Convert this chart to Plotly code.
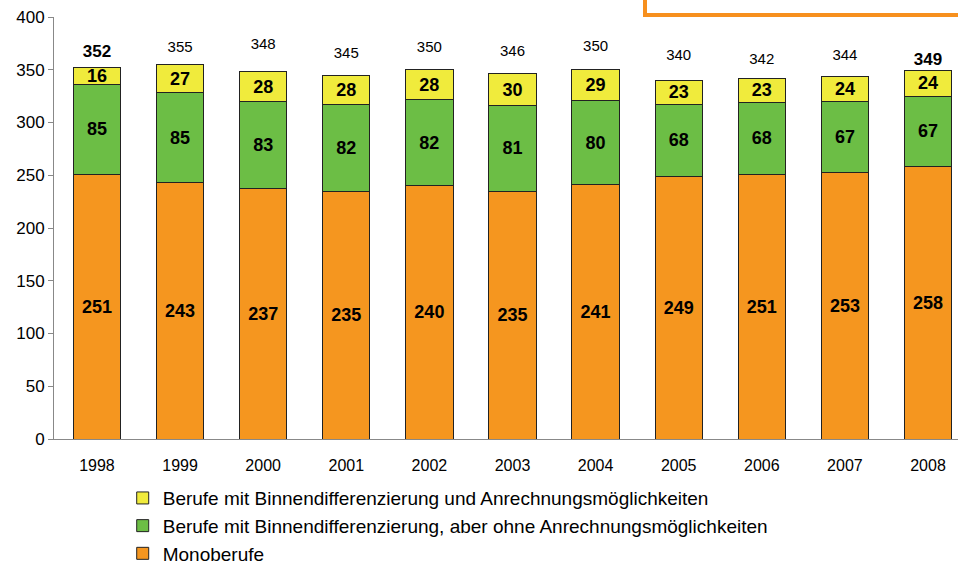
import plotly.graph_objects as go

years = ["1998", "1999", "2000", "2001", "2002", "2003", "2004", "2005", "2006", "2007", "2008"]
mono = [251, 243, 237, 235, 240, 235, 241, 249, 251, 253, 258]
ohne = [85, 85, 83, 82, 82, 81, 80, 68, 68, 67, 67]
mit = [16, 27, 28, 28, 28, 30, 29, 23, 23, 24, 24]
totals = [352, 355, 348, 345, 350, 346, 350, 340, 342, 344, 349]
total_bold = [True, False, False, False, False, False, False, False, False, False, True]

names = {
    "mit": "Berufe mit Binnendifferenzierung und Anrechnungsmöglichkeiten",
    "ohne": "Berufe mit Binnendifferenzierung, aber ohne Anrechnungsmöglichkeiten",
    "mono": "Monoberufe",
}

# label offsets above bar tops (in axis units)
total_offset = [14.5, 15.3, 24.8, 19.9, 20.6, 20.8, 21.6, 23.0, 17.0, 19.0, 9.6]

ORANGE = "#F5961F"
GREEN = "#6CBE45"
YELLOW = "#F0EB3C"
FONT = "Liberation Sans, Arial, sans-serif"

fig = go.Figure()
for key, vals, col in [("mono", mono, ORANGE), ("ohne", ohne, GREEN), ("mit", mit, YELLOW)]:
    fig.add_trace(go.Bar(
        x=years, y=vals, name=names[key],
        marker=dict(color=col, line=dict(color="#222222", width=1)),
        width=0.57,
        text=[str(v) for v in vals],
        texttemplate="<b>%{text}</b>",
        textposition="inside", insidetextanchor="middle", textangle=0,
        textfont=dict(family=FONT, size=18, color="black"),
        hoverinfo="skip",
    ))

for bold in (True, False):
    xs = [yr for yr, b in zip(years, total_bold) if b == bold]
    ys = [t + o for t, o, b in zip(totals, total_offset, total_bold) if b == bold]
    ts = [(f"<b>{t}</b>" if b else str(t)) for t, b in zip(totals, total_bold) if b == bold]
    fig.add_trace(go.Scatter(
        x=xs, y=ys, text=ts, mode="text", textposition="middle center",
        textfont=dict(family=FONT, size=17 if bold else 15, color="black"),
        showlegend=False, hoverinfo="skip", cliponaxis=False,
    ))

# partially visible orange box top right
fig.add_shape(type="rect", xref="paper", yref="paper",
              x0=(645 - 54) / 904, x1=1.05, y0=(439 - 15) / 422, y1=1.2,
              line=dict(color="#F7901E", width=4), fillcolor="rgba(0,0,0,0)")

fig.update_layout(
    barmode="stack",
    width=958, height=564,
    margin=dict(l=54, r=0, t=17, b=125, autoexpand=False),
    paper_bgcolor="white", plot_bgcolor="white",
    font=dict(family=FONT, size=16, color="black"),
    uniformtext=dict(minsize=18, mode="show"),
    showlegend=True,
    legend=dict(
        traceorder="reversed", orientation="v",
        x=0.076, xanchor="left", y=-0.095, yanchor="top",
        font=dict(family=FONT, size=19, color="black"),
        tracegroupgap=0, itemwidth=30,
        bgcolor="rgba(0,0,0,0)",
    ),
    xaxis=dict(
        type="category", range=[-0.517, 10.361], automargin=False,
        showline=True, linecolor="#888888", linewidth=1,
        ticks="", showgrid=False,
        tickfont=dict(family=FONT, size=16, color="black"),
        ticklabelstandoff=12,
    ),
    yaxis=dict(
        range=[0, 400], tickvals=[0, 50, 100, 150, 200, 250, 300, 350, 400],
        automargin=False,
        showline=True, linecolor="#888888", linewidth=1,
        ticks="outside", ticklen=5, tickcolor="#888888",
        showgrid=False, zeroline=False,
        tickfont=dict(family=FONT, size=17, color="black"),
    ),
)

fig.write_html("out.html", config={"displayModeBar": False},
               post_script="document.body.style.margin='0px';")
